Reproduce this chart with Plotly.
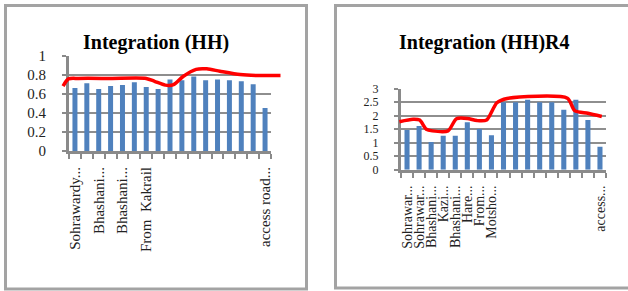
import plotly.graph_objects as go

W, H = 628, 291

# ---------------- data ----------------
left_title = "Integration (HH)"
left_tick_labels = ["Sohrawardy...", "", "Bhashani...", "", "Bhashani...", "", "From  Kakrail",
                    "", "", "", "", "", "", "", "", "", "access road..."]
left_bar_values = [0.66, 0.71, 0.65, 0.68, 0.69, 0.72, 0.67, 0.65, 0.75, 0.74,
                   0.78, 0.74, 0.75, 0.74, 0.73, 0.70, 0.45]
left_line_positions = [-1.0, -0.55, 0.3, 3.0, 6.0, 6.7, 7.6, 8.3, 9.1, 10.2, 11.1, 12.2, 13.9, 15.3, 17.3]
left_line_values = [0.68, 0.755, 0.76, 0.76, 0.76, 0.73, 0.69, 0.695, 0.78, 0.855, 0.86, 0.835, 0.80, 0.79, 0.79]
left_y_ticks = [0, 0.2, 0.4, 0.6, 0.8, 1]
left_y_text = ["0", "0.2", "0.4", "0.6", "0.8", "1"]

right_title = "Integration (HH)R4"
right_tick_labels = ["Sohrawar...", "Sohrawar...", "Bhashani...", "Kazi...", "Bhashani...", "Hare...",
                     "From...", "Motsho...", "", "", "", "", "", "", "", "", "access..."]
right_bar_values = [1.47, 1.62, 1.03, 1.26, 1.26, 1.76, 1.51, 1.28, 2.50, 2.50,
                    2.59, 2.50, 2.50, 2.22, 2.59, 1.84, 0.85]
right_line_positions = [-0.63, 0.5, 1.05, 1.6, 2.1, 3.4, 4.1, 5.0, 5.8, 6.6, 7.45, 8.3, 13.3, 13.9, 15.0, 16.15]
right_line_values = [1.78, 1.87, 1.84, 1.50, 1.44, 1.44, 1.89, 1.90, 1.82, 1.84, 2.48, 2.64, 2.65, 2.19, 2.09, 1.97]
right_y_ticks = [0, 0.5, 1, 1.5, 2, 2.5, 3]
right_y_text = ["0", "0.5", "1", "1.5", "2", "2.5", "3"]

# ---------------- style ----------------
SERIF = "Liberation Serif, Times New Roman, serif"
BAR = "#4f81bd"
GRID = "#8e8e8e"
AXIS = "#8a8a8a"
LINE = "#ff0000"
TXT = "#222222"


def px_x(p):
    return p / W


def px_y(p):
    return (H - p) / H


fig = go.Figure()
layout = {}


def panel(k, bars, labels, line_pos, line_val, plot_px, line_px, y0px, y1px,
          yrange, yticks, ytext, yfont, xfont):
    n = len(bars)
    bx, by = ("x", "y") if k == 1 else (f"x{k}", f"y{k}")
    lx, ly = f"x{k+1}", f"y{k+1}"
    bkx, bky = ("xaxis", "yaxis") if k == 1 else (f"xaxis{k}", f"yaxis{k}")
    lkx, lky = f"xaxis{k+1}", f"yaxis{k+1}"

    fig.add_trace(go.Bar(x=list(range(n)), y=bars, width=0.42, marker=dict(color=BAR, line=dict(width=0)),
                         xaxis=bx, yaxis=by, showlegend=False))
    fig.add_trace(go.Scatter(x=line_pos, y=line_val, mode="lines",
                             line=dict(color=LINE, width=3.5, shape="spline", smoothing=0.7),
                             xaxis=lx, yaxis=ly, showlegend=False))

    ydom = [px_y(y0px), px_y(y1px)]
    layout[bkx] = dict(domain=[px_x(plot_px[0]), px_x(plot_px[1])], anchor=by, type="category",
                       range=[-0.5, n - 0.5], tickmode="array", tickvals=list(range(n)), ticktext=labels,
                       tickson="boundaries", ticks="outside", ticklen=5, tickwidth=2, tickcolor=AXIS,
                       showline=True, linecolor=AXIS, linewidth=3, showgrid=False, tickangle=-90,
                       ticklabelstandoff=7, automargin=False,
                       tickfont=dict(family=SERIF, size=xfont, color=TXT))
    layout[bky] = dict(domain=ydom, anchor=bx, range=yrange, tickmode="array", tickvals=yticks, ticktext=ytext,
                       showgrid=True, gridcolor=GRID, gridwidth=2, zeroline=False,
                       showline=True, linecolor=AXIS, linewidth=3, ticks="outside", ticklen=4,
                       tickwidth=2, tickcolor=AXIS, ticklabelstandoff=13, automargin=False,
                       tickfont=dict(family=SERIF, size=yfont, color=TXT))
    s = (plot_px[1] - plot_px[0]) / n
    lr = [-0.5 + (line_px[0] - plot_px[0]) / s, n - 0.5 + (line_px[1] - plot_px[1]) / s]
    layout[lkx] = dict(domain=[px_x(line_px[0]), px_x(line_px[1])], anchor=ly, range=lr, visible=False)
    layout[lky] = dict(domain=ydom, anchor=lx, range=yrange, visible=False)


panel(1, left_bar_values, left_tick_labels, left_line_positions, left_line_values,
      plot_px=(69, 271), line_px=(60, 283), y0px=151, y1px=55.5, yrange=[0, 1],
      yticks=left_y_ticks, ytext=left_y_text, yfont=15, xfont=15)
panel(3, right_bar_values, right_tick_labels, right_line_positions, right_line_values,
      plot_px=(401, 606), line_px=(396, 606), y0px=169.8, y1px=88.7, yrange=[0, 3],
      yticks=right_y_ticks, ytext=right_y_text, yfont=12, xfont=14)

shapes = [
    dict(type="rect", xref="paper", yref="paper", x0=px_x(5.5), x1=px_x(306.5), y0=px_y(289), y1=px_y(5.5),
         line=dict(color="#a3a3a3", width=3), fillcolor="rgba(0,0,0,0)", layer="below"),
    dict(type="rect", xref="paper", yref="paper", x0=px_x(335.5), x1=px_x(640), y0=px_y(288), y1=px_y(5.5),
         line=dict(color="#a3a3a3", width=3), fillcolor="rgba(0,0,0,0)", layer="below"),
]

annotations = [
    dict(text="<b>" + left_title + "</b>", x=px_x(156), y=px_y(42), xref="paper", yref="paper",
         showarrow=False, xanchor="center", yanchor="middle",
         font=dict(family=SERIF, size=20, color="#000000")),
    dict(text="<b>" + right_title + "</b>", x=px_x(484), y=px_y(42), xref="paper", yref="paper",
         showarrow=False, xanchor="center", yanchor="middle",
         font=dict(family=SERIF, size=20, color="#000000")),
]

fig.update_layout(width=W, height=H, margin=dict(l=0, r=0, t=0, b=0, autoexpand=False),
                  paper_bgcolor="white", plot_bgcolor="rgba(0,0,0,0)",
                  shapes=shapes, annotations=annotations, bargap=0.5, **layout)

fig.write_html("out.html", config={"displayModeBar": False},
               post_script="document.body.style.margin='0';document.body.style.overflow='hidden';")
